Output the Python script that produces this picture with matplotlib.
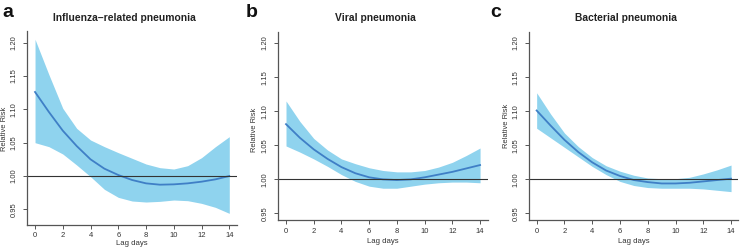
import numpy as np
import matplotlib.pyplot as plt

plt.rcParams['font.family'] = ['Liberation Sans', 'DejaVu Sans']

lag_days = np.arange(0, 15)

titles = ["Influenza\u2013related pneumonia", "Viral pneumonia", "Bacterial pneumonia"]
letters = ["a", "b", "c"]

# panel a: influenza-related pneumonia
flu_rr = [1.126, 1.096, 1.068, 1.045, 1.025, 1.011, 1.0015, 0.994, 0.989,
          0.987, 0.9875, 0.989, 0.9915, 0.995, 1.000]
flu_hi = [1.205, 1.152, 1.1015, 1.0715, 1.054, 1.044, 1.035, 1.0265, 1.018,
          1.0125, 1.0105, 1.0155, 1.0275, 1.044, 1.059]
flu_lo = [1.050, 1.044, 1.033, 1.0165, 0.999, 0.980, 0.968, 0.9625, 0.961,
          0.962, 0.964, 0.963, 0.959, 0.953, 0.944]

# panel b: viral pneumonia
vir_rr = [1.081, 1.061, 1.044, 1.030, 1.018, 1.009, 1.003, 1.000, 0.999,
          1.000, 1.003, 1.007, 1.011, 1.016, 1.021]
vir_hi = [1.115, 1.085, 1.060, 1.043, 1.030, 1.023, 1.017, 1.013, 1.011,
          1.011, 1.013, 1.018, 1.025, 1.035, 1.046]
vir_lo = [1.049, 1.040, 1.030, 1.019, 1.007, 0.997, 0.990, 0.987, 0.987,
          0.990, 0.993, 0.995, 0.996, 0.996, 0.995]

# panel c: bacterial pneumonia
bac_rr = [1.101, 1.079, 1.058, 1.040, 1.025, 1.013, 1.005, 0.999, 0.996,
          0.994, 0.994, 0.995, 0.997, 0.999, 1.001]
bac_hi = [1.127, 1.096, 1.068, 1.048, 1.032, 1.020, 1.012, 1.006, 1.002,
          1.001, 1.001, 1.003, 1.008, 1.014, 1.021]
bac_lo = [1.075, 1.061, 1.047, 1.033, 1.019, 1.007, 0.997, 0.991, 0.988,
          0.987, 0.987, 0.987, 0.986, 0.984, 0.982]

series = [(flu_rr, flu_lo, flu_hi), (vir_rr, vir_lo, vir_hi), (bac_rr, bac_lo, bac_hi)]
xticks = [0, 2, 4, 6, 8, 10, 12, 14]
yticks = [0.95, 1.00, 1.05, 1.10, 1.15, 1.20]

W, H = 740, 249
fig = plt.figure(figsize=(W / 100, H / 100), dpi=100)

# pixel boxes (left, right, top, bottom) and limits
boxes = [(27.4, 237.2, 31.3, 224.7), (278.3, 487.7, 31.7, 220), (529.3, 738, 31.7, 220)]
xlims = [(-0.55, 14.57), (-0.556, 14.55), (-0.53, 14.5)]
ylims = [(0.927, 1.217), (0.9404, 1.2166), (0.9404, 1.2166)]
title_x = [124, 375, 626]
letter_x = [2, 246, 490]
ylab_pos = [(5, 129), (255, 130), (506, 126)]
xlab_y = [243, 241.5, 241.5]

fill_col = "#8fd3ee"
line_col = "#3f7fc6"
axis_col = "#555555"

for i, (rr, lo, hi) in enumerate(series):
    l, r, t, b = boxes[i]
    ax = fig.add_axes([l / W, (H - b) / H, (r - l) / W, (b - t) / H])
    ax.fill_between(lag_days, lo, hi, color=fill_col, lw=0)
    ax.plot(lag_days, rr, color=line_col, lw=1.3)
    ax.axhline(1.0, color="#333333", lw=0.8)
    ax.set_xlim(*xlims[i])
    ax.set_ylim(*ylims[i])
    ax.set_xticks(xticks)
    ax.set_yticks(yticks)
    ax.set_yticklabels(["%.2f" % v for v in yticks], rotation=90, va="center")
    for s in ["top", "right"]:
        ax.spines[s].set_visible(False)
    for s in ["left", "bottom"]:
        ax.spines[s].set_color(axis_col)
        ax.spines[s].set_linewidth(0.9)
    ax.tick_params(direction="out", length=3, width=0.7, color=axis_col,
                   labelsize=5.5, labelcolor="#333333")
    ax.tick_params(axis="x", pad=2.5)
    ax.tick_params(axis="y", pad=4)
    ax.patch.set_alpha(0)

    cx = (l + r) / 2
    fig.text(cx / W, (H - xlab_y[i]) / H, "Lag days", ha="center", va="center",
             fontsize=5.6, color="#333333")
    fig.text(ylab_pos[i][0] / W, (H - ylab_pos[i][1]) / H, "Relative Risk",
             rotation=90, ha="center", va="center", fontsize=5.4, color="#333333")
    fig.text(title_x[i] / W, (H - 18) / H, titles[i], ha="center", va="center",
             fontsize=7.4, fontweight="bold", color="#222222")
    fig.text(letter_x[i] / W, (H - 17) / H, letters[i], ha="left", va="baseline",
             fontsize=14, fontweight="bold", color="#111111")

fig.savefig("out.png", dpi=100)
